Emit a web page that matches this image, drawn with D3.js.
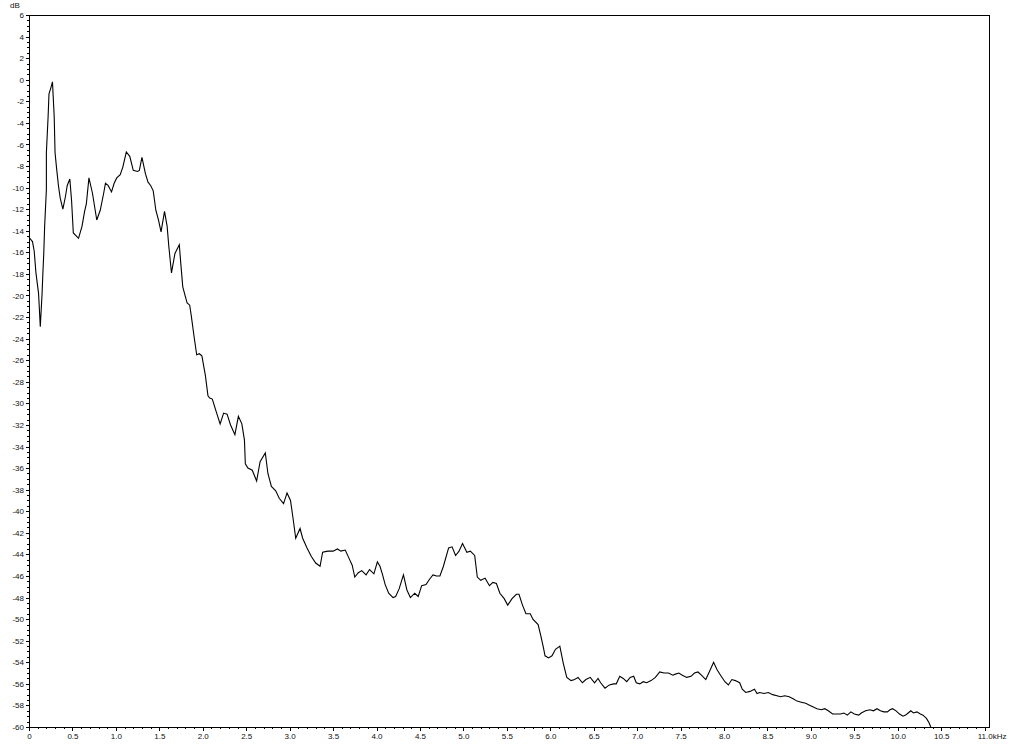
<!DOCTYPE html>
<html>
<head>
<meta charset="utf-8">
<script src="https://cdn.jsdelivr.net/npm/d3@7"></script>
<style>
  body { margin: 0; background: #fff; }
  svg { display: block; }
  text { font-family: "Liberation Sans", Arial, sans-serif; font-size: 8px; fill: #111; }
</style>
</head>
<body>
<svg id="chart" width="1024" height="745"></svg>
<script>
// spectrum: frequency (kHz) and level (dB)
const freqKHz = [
  0.00,0.04,0.06,0.08,0.11,0.13,0.15,0.16,0.17,0.18,0.20,0.20,0.22,0.23,0.25,0.27,0.29,0.30,0.32,0.34,
  0.36,0.39,0.42,0.44,0.47,0.49,0.51,0.57,0.61,0.64,0.66,0.69,0.73,0.78,0.82,0.86,0.88,0.91,0.95,0.98,
  1.01,1.05,1.08,1.12,1.16,1.20,1.25,1.27,1.30,1.34,1.37,1.40,1.43,1.46,1.49,1.52,1.56,1.59,1.61,1.64,
  1.68,1.73,1.75,1.77,1.80,1.82,1.85,1.87,1.90,1.93,1.96,1.99,2.03,2.06,2.08,2.11,2.16,2.20,2.24,2.28,
  2.32,2.37,2.41,2.45,2.48,2.49,2.52,2.57,2.62,2.66,2.72,2.75,2.79,2.84,2.88,2.93,2.97,3.01,3.04,3.07,
  3.12,3.15,3.20,3.25,3.30,3.35,3.38,3.44,3.50,3.55,3.59,3.64,3.68,3.72,3.75,3.79,3.83,3.88,3.92,3.97,
  4.01,4.04,4.07,4.10,4.14,4.19,4.22,4.26,4.31,4.35,4.39,4.44,4.48,4.52,4.57,4.61,4.65,4.69,4.73,4.77,
  4.83,4.87,4.91,4.95,4.99,5.04,5.08,5.13,5.16,5.20,5.25,5.30,5.34,5.38,5.42,5.47,5.51,5.56,5.61,5.64,
  5.68,5.72,5.77,5.80,5.86,5.89,5.92,5.94,5.98,6.02,6.06,6.11,6.15,6.19,6.24,6.28,6.32,6.37,6.41,6.46,
  6.51,6.55,6.58,6.63,6.68,6.73,6.76,6.80,6.84,6.88,6.92,6.96,6.99,7.03,7.07,7.11,7.16,7.21,7.26,7.31,
  7.36,7.41,7.44,7.48,7.52,7.57,7.62,7.66,7.70,7.74,7.79,7.83,7.88,7.92,7.96,8.01,8.05,8.09,8.13,8.18,
  8.21,8.25,8.30,8.35,8.38,8.41,8.46,8.51,8.56,8.61,8.65,8.70,8.75,8.80,8.84,8.89,8.94,8.99,9.04,9.07,
  9.12,9.16,9.20,9.25,9.30,9.34,9.38,9.42,9.46,9.50,9.55,9.58,9.63,9.68,9.72,9.76,9.80,9.84,9.88,9.91,
  9.94,9.98,10.02,10.06,10.09,10.12,10.15,10.18,10.22,10.26,10.29,10.33,10.36,10.38
];
const levelDb = [
  -14.6,-15.0,-15.9,-17.9,-19.8,-22.9,-19.9,-17.9,-16.1,-13.6,-10.2,-6.8,-3.4,-1.3,-0.8,-0.2,-3.4,-6.8,-8.4,-9.9,
  -11.0,-12.0,-10.8,-9.8,-9.2,-11.2,-14.2,-14.7,-13.6,-12.2,-11.5,-9.1,-10.5,-13.0,-12.1,-10.5,-9.6,-9.8,-10.4,-9.6,
  -9.1,-8.8,-8.1,-6.7,-7.1,-8.4,-8.5,-8.4,-7.2,-8.7,-9.5,-9.8,-10.3,-12.1,-13.0,-14.1,-12.2,-13.6,-15.5,-17.9,
  -16.1,-15.3,-17.3,-19.2,-20.1,-20.7,-20.9,-22.0,-23.8,-25.5,-25.4,-25.6,-27.4,-29.3,-29.5,-29.6,-30.9,-31.9,-30.9,-31.0,
  -32.0,-32.9,-31.2,-31.9,-33.4,-35.6,-36.0,-36.2,-37.2,-35.4,-34.6,-36.5,-37.7,-38.1,-38.8,-39.3,-38.3,-39.0,-40.7,-42.5,
  -41.6,-42.5,-43.4,-44.2,-44.8,-45.1,-43.8,-43.7,-43.7,-43.5,-43.7,-43.6,-44.3,-45.0,-46.1,-45.7,-45.5,-45.9,-45.4,-45.8,
  -44.7,-45.1,-45.9,-46.8,-47.6,-48.0,-47.9,-47.2,-45.9,-47.3,-48.0,-47.6,-47.9,-46.9,-46.8,-46.3,-45.9,-46.0,-46.0,-45.1,
  -43.4,-43.3,-44.1,-43.7,-43.0,-43.8,-43.7,-44.1,-46.1,-46.4,-46.2,-46.9,-46.6,-46.7,-47.6,-48.1,-48.7,-48.1,-47.7,-47.7,
  -48.7,-49.5,-49.5,-50.0,-50.5,-51.5,-52.6,-53.4,-53.6,-53.4,-52.8,-52.5,-54.1,-55.4,-55.7,-55.6,-55.4,-55.9,-55.6,-55.4,
  -55.9,-55.5,-55.9,-56.4,-56.1,-56.0,-56.0,-55.3,-55.5,-55.8,-55.4,-55.3,-55.9,-56.0,-55.8,-55.9,-55.7,-55.4,-54.9,-55.0,
  -55.0,-55.2,-55.1,-55.0,-55.2,-55.4,-55.3,-55.0,-54.9,-55.2,-55.6,-54.9,-54.0,-54.7,-55.2,-55.8,-56.1,-55.6,-55.7,-55.9,
  -56.5,-56.8,-56.7,-56.5,-56.9,-56.8,-56.9,-56.8,-57.0,-57.1,-57.2,-57.1,-57.2,-57.4,-57.6,-57.7,-57.8,-58.0,-58.2,-58.3,
  -58.4,-58.3,-58.5,-58.8,-58.8,-58.8,-58.7,-58.9,-58.6,-58.8,-58.9,-58.7,-58.5,-58.4,-58.5,-58.3,-58.5,-58.6,-58.6,-58.4,
  -58.3,-58.5,-58.8,-59.0,-58.9,-58.7,-58.5,-58.7,-58.6,-58.8,-58.9,-59.2,-59.6,-60.0
];
const xTickLabels = ["0","0.5","1.0","1.5","2.0","2.5","3.0","3.5","4.0","4.5","5.0","5.5",
  "6.0","6.5","7.0","7.5","8.0","8.5","9.0","9.5","10.0","10.5","11.0"];
const yTickLabels = ["6","4","2","0","-2","-4","-6","-8","-10","-12","-14","-16","-18","-20","-22","-24",
  "-26","-28","-30","-32","-34","-36","-38","-40","-42","-44","-46","-48","-50","-52","-54","-56","-58","-60"];

const chart = d3.select("#chart");
const margin = { left: 29, right: 35, top: 15, bottom: 18 };
const width = 1024, height = 745;

const x = d3.scaleLinear().domain([0, 11.05]).range([margin.left, width - margin.right]);
const y = d3.scaleLinear().domain([-60, 6]).range([height - margin.bottom, margin.top]);

// minor ticks first
const xMinor = d3.range(0, 110.5, 1).map(d => d / 10);
const yMinor = d3.range(-120, 13, 1).map(d => d / 2);

chart.append("g")
  .attr("transform", "translate(0," + y(-60) + ")")
  .call(d3.axisBottom(x).tickValues(xMinor).tickSize(2).tickFormat(""))
  .call(g => g.select(".domain").remove());
chart.append("g")
  .attr("transform", "translate(" + x(0) + ",0)")
  .call(d3.axisLeft(y).tickValues(yMinor).tickSize(2).tickFormat(""))
  .call(g => g.select(".domain").remove());

// major ticks with labels
let xAxis = chart.append("g")
  .attr("transform", "translate(0," + y(-60) + ")")
  .call(d3.axisBottom(x).tickValues(xTickLabels.map(Number)).tickSize(4).tickPadding(2)
    .tickFormat((d, i) => xTickLabels[i]))
  .call(g => g.select(".domain").remove());
xAxis.selectAll("text").attr("font-size", null).attr("font-family", null);

let yAxis = chart.append("g")
  .attr("transform", "translate(" + x(0) + ",0)")
  .call(d3.axisLeft(y).tickValues(yTickLabels.map(Number)).tickSize(3).tickPadding(2)
    .tickFormat((d, i) => yTickLabels[i]))
  .call(g => g.select(".domain").remove());
yAxis.selectAll("text").attr("font-size", null).attr("font-family", null);

chart.selectAll(".tick line").attr("stroke", "#000").attr("shape-rendering", "crispEdges");

// frame
chart.append("rect")
  .attr("x", x(0) + 0.5)
  .attr("y", y(6) + 0.5)
  .attr("width", x(11.05) - x(0))
  .attr("height", y(-60) - y(6))
  .attr("fill", "none")
  .attr("stroke", "#000")
  .attr("shape-rendering", "crispEdges");

// units
chart.append("text").attr("x", 10).attr("y", 8).text("dB");
chart.append("text").attr("x", x(11) + 8).attr("y", y(-60) + 12).text("kHz");

// the spectrum line
const pts = freqKHz.map((f, i) => [f, levelDb[i]]);
const line = d3.line().x(d => x(d[0])).y(d => y(d[1]));
chart.append("path")
  .datum(pts)
  .attr("d", line)
  .attr("fill", "none")
  .attr("stroke", "#000")
  .attr("stroke-width", 1.1);
</script>
</body>
</html>
